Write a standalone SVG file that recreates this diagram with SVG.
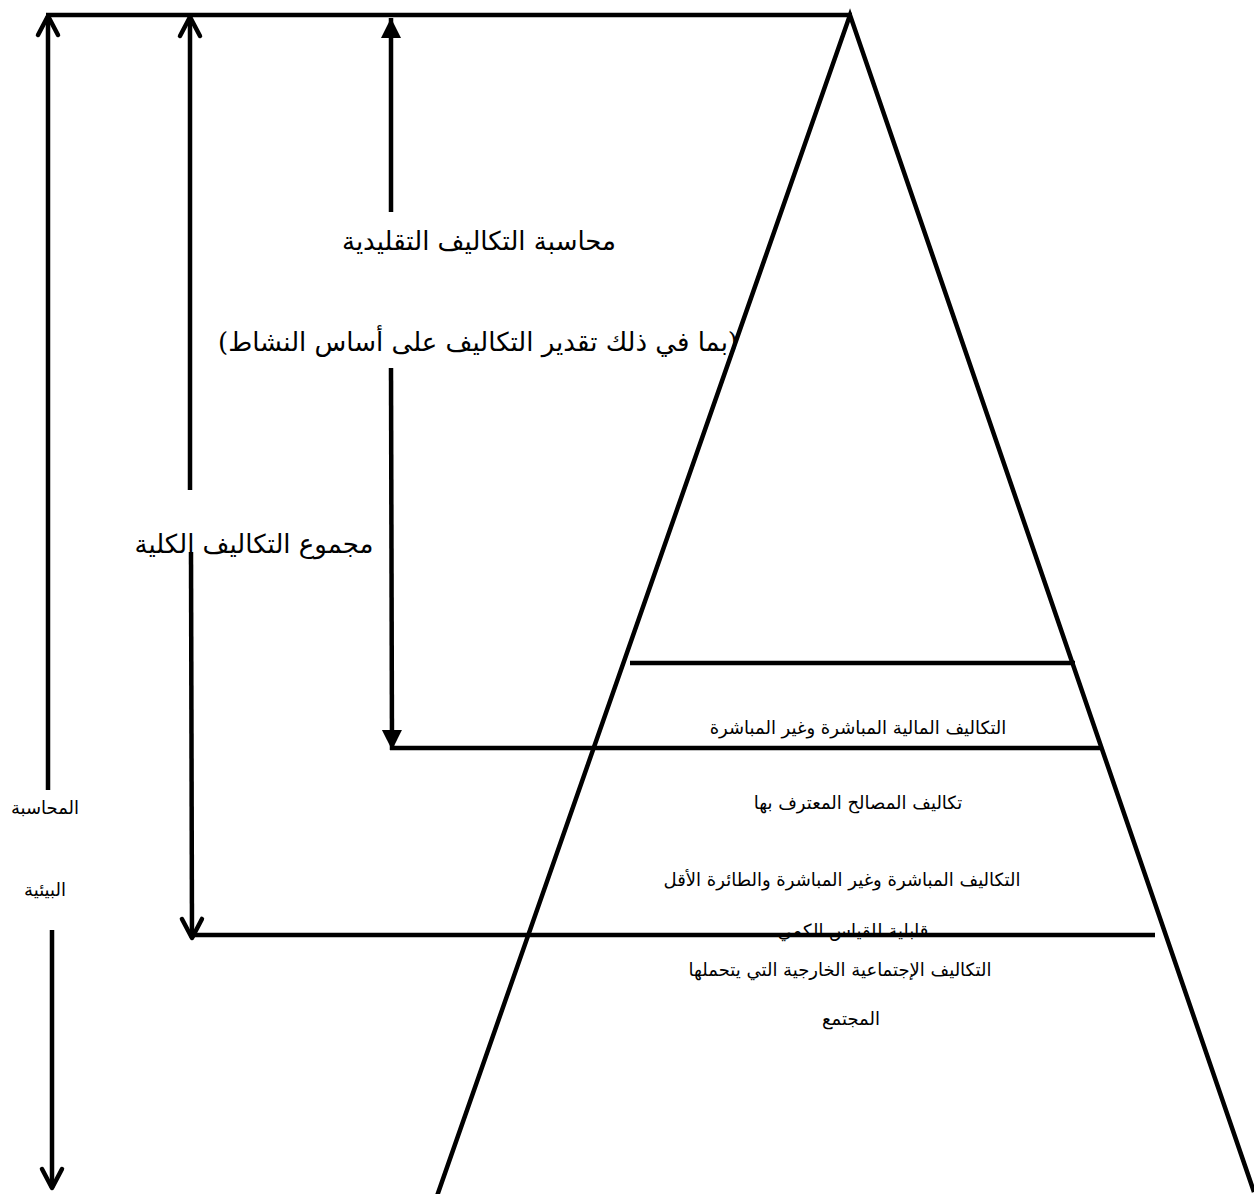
<svg xmlns="http://www.w3.org/2000/svg" width="1254" height="1194" viewBox="0 0 1254 1194">
<style>
.ln{stroke:#000;stroke-width:4.5;fill:none}
.t{font-family:"DejaVu Serif","DejaVu Sans",serif;fill:#000;text-anchor:middle}
.big{font-size:26px}
.sm{font-size:18px}
</style>
<defs>
<marker id="chev" markerUnits="userSpaceOnUse" viewBox="-26 -14 30 28" refX="0" refY="0" markerWidth="30" markerHeight="28" orient="auto">
<path d="M-19,-10 L0,0 L-19,10" fill="none" stroke="#000" stroke-width="4.5" stroke-linecap="round" stroke-linejoin="round"/>
</marker>
<marker id="tri" markerUnits="userSpaceOnUse" viewBox="-24 -12 26 24" refX="0" refY="0" markerWidth="26" markerHeight="24" orient="auto">
<path d="M-20,-10 L0,0 L-20,10 Z" fill="#000"/>
</marker>
</defs>
<rect width="1254" height="1194" fill="#fff"/>
<g id="pyramid">
<polyline class="ln" points="437,1196 850,15 1254,1192"/>
<line class="ln" x1="46" y1="15" x2="852" y2="15"/>
<line class="ln" x1="630" y1="663" x2="1075" y2="663"/>
<line class="ln" x1="390" y1="748" x2="1100" y2="748"/>
<line class="ln" x1="191" y1="935" x2="1155" y2="935"/>
</g>
<g id="connectors">
<line class="ln" x1="48" y1="790" x2="48" y2="16" marker-end="url(#chev)"/>
<line class="ln" x1="52" y1="930" x2="52" y2="1188" marker-end="url(#chev)"/>
<line class="ln" x1="190" y1="490" x2="190" y2="17" marker-end="url(#chev)"/>
<line class="ln" x1="191" y1="552" x2="192" y2="938" marker-end="url(#chev)"/>
<line class="ln" x1="391" y1="212" x2="391" y2="18" marker-end="url(#tri)"/>
<line class="ln" x1="391" y1="368" x2="392" y2="750" marker-end="url(#tri)"/>
</g>
<g id="label-traditional">
<text class="t big" x="479" y="250" direction="rtl">محاسبة التكاليف التقليدية</text>
<text class="t big" x="478" y="351" direction="rtl">(بما في ذلك تقدير التكاليف على أساس النشاط)</text>
</g>
<g id="label-total">
<text class="t big" x="254" y="553" direction="rtl">مجموع التكاليف الكلية</text>
</g>
<g id="label-env">
<text class="t sm" x="45" y="814" direction="rtl">المحاسبة</text>
<text class="t sm" x="45" y="896" direction="rtl">البيئية</text>
</g>
<g id="layer-financial">
<text class="t sm" x="858" y="734" direction="rtl">التكاليف المالية المباشرة وغير المباشرة</text>
</g>
<g id="layer-recognized">
<text class="t sm" x="858" y="809" direction="rtl">تكاليف المصالح المعترف بها</text>
</g>
<g id="layer-intangible">
<text class="t sm" x="842" y="886" direction="rtl">التكاليف المباشرة وغير المباشرة والطائرة الأقل</text>
<text class="t sm" x="853" y="937" direction="rtl">قابلية للقياس الكمي</text>
</g>
<g id="layer-social">
<text class="t sm" x="840" y="976" direction="rtl">التكاليف الإجتماعية الخارجية التي يتحملها</text>
<text class="t sm" x="851" y="1025" direction="rtl">المجتمع</text>
</g>
</svg>
